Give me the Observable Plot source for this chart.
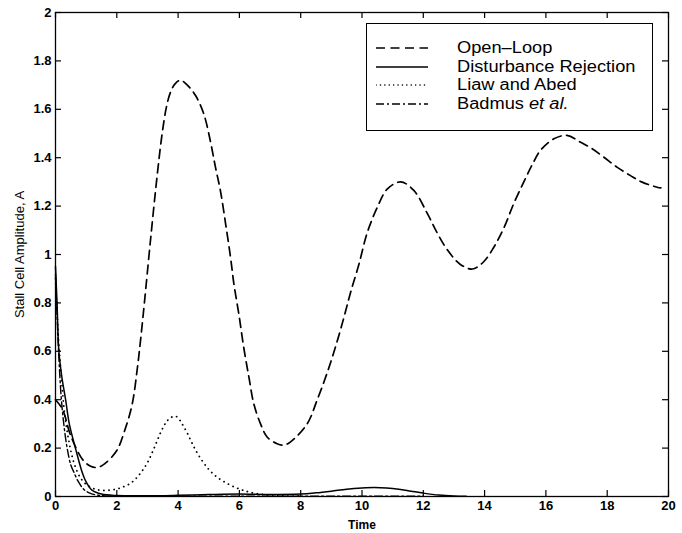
<!DOCTYPE html>
<html>
<head>
<meta charset="utf-8">
<script src="https://cdn.jsdelivr.net/npm/d3@7"></script>
<script src="https://cdn.jsdelivr.net/npm/@observablehq/plot@0.6"></script>
<style>
  body { margin: 0; background: white; }
  #wrap { position: relative; width: 682px; height: 533px; font-family: "Liberation Sans", Arial, sans-serif; }
  #legend { position: absolute; left: 366px; top: 23px; width: 285px; height: 106px; border: 1.5px solid black; background: white; }
  .row { position: absolute; left: 0; height: 18px; display: flex; align-items: center; white-space: nowrap; }
  .row svg { margin-left: 9px; }
  .row span { margin-left: 29px; font-size: 16px; color: black; display: inline-block; transform: scaleX(1.14); transform-origin: left center; }
</style>
</head>
<body>
<div id="wrap"></div>
<script>
// ---- data ----
const xTicks = [0, 2, 4, 6, 8, 10, 12, 14, 16, 18, 20];
const yTicks = [0, 0.2, 0.4, 0.6, 0.8, 1, 1.2, 1.4, 1.6, 1.8, 2];

const openT = [0, 0.23, 0.5, 0.9, 1.15, 1.36, 1.6, 2.0, 2.25, 2.5, 2.67, 2.77, 2.9, 3.1, 3.32, 3.48, 3.62, 3.75, 3.9, 4.08, 4.3, 4.57, 4.84, 5.06, 5.22, 5.38, 5.55, 5.71, 5.82, 5.98, 6.14, 6.31, 6.47, 6.69, 6.91, 7.23, 7.45, 7.67, 8.21, 8.54, 8.86, 9.14, 9.41, 9.62, 9.9, 10.17, 10.5, 10.82, 11.26, 11.69, 12.13, 12.45, 12.78, 13.2, 13.6, 13.97, 14.3, 14.63, 14.95, 15.28, 15.55, 15.82, 16.26, 16.69, 17.13, 17.51, 17.89, 18.33, 18.76, 19.14, 19.63, 19.75];
const openA = [0.4, 0.36, 0.25, 0.15, 0.125, 0.12, 0.135, 0.19, 0.27, 0.38, 0.53, 0.64, 0.80, 1.06, 1.33, 1.50, 1.61, 1.67, 1.705, 1.72, 1.70, 1.657, 1.58, 1.464, 1.36, 1.264, 1.127, 0.989, 0.879, 0.755, 0.617, 0.493, 0.383, 0.30, 0.245, 0.218, 0.212, 0.226, 0.30, 0.40, 0.51, 0.62, 0.74, 0.84, 0.96, 1.09, 1.195, 1.27, 1.30, 1.265, 1.17, 1.09, 1.02, 0.96, 0.94, 0.97, 1.03, 1.11, 1.21, 1.30, 1.37, 1.43, 1.478, 1.492, 1.464, 1.437, 1.402, 1.36, 1.326, 1.299, 1.278, 1.275];

const distT = [0, 0.05, 0.11, 0.2, 0.33, 0.45, 0.65, 0.87, 1.0, 1.2, 1.5, 2, 3, 4, 5, 6, 7, 8, 8.5, 9, 9.5, 10, 10.4, 10.8, 11.2, 11.6, 12, 12.5, 13, 13.4];
const distA = [0.95, 0.8, 0.6, 0.5, 0.4, 0.3, 0.2, 0.1, 0.06, 0.025, 0.01, 0.004, 0.003, 0.005, 0.008, 0.01, 0.008, 0.01, 0.015, 0.022, 0.03, 0.035, 0.037, 0.035, 0.03, 0.022, 0.014, 0.006, 0.002, 0.001];

const liawT = [0, 0.1, 0.2, 0.3, 0.45, 0.6, 0.8, 1.0, 1.3, 1.63, 1.96, 2.17, 2.39, 2.55, 2.7, 2.85, 3.0, 3.15, 3.3, 3.45, 3.6, 3.75, 3.91, 4.0, 4.13, 4.3, 4.45, 4.6, 4.8, 5.0, 5.22, 5.49, 5.82, 6.14, 6.47, 7, 8];
const liawA = [0.9, 0.65, 0.48, 0.34, 0.22, 0.14, 0.08, 0.05, 0.03, 0.025, 0.03, 0.038, 0.05, 0.065, 0.085, 0.11, 0.14, 0.18, 0.225, 0.27, 0.305, 0.325, 0.332, 0.325, 0.30, 0.262, 0.222, 0.185, 0.145, 0.112, 0.085, 0.062, 0.04, 0.025, 0.014, 0.005, 0.002];

const badT = [0, 0.05, 0.1, 0.18, 0.27, 0.38, 0.5, 0.6, 0.75, 0.92, 1.1, 1.4, 2, 3, 4, 6, 8, 10, 12];
const badA = [0.92, 0.75, 0.6, 0.42, 0.3, 0.2, 0.13, 0.1, 0.06, 0.03, 0.015, 0.005, 0.002, 0.001, 0.001, 0.001, 0.001, 0.001, 0.001];

const seriesNames = ["Open\u2013Loop", "Disturbance Rejection", "Liaw and Abed", "Badmus"];

// ---- chart ----
const W = 682, H = 533, mL = 55, mR = 14, mT = 12, mB = 37;
const fw = W - mL - mR, fh = H - mT - mB;
const toRows = (t, a) => t.map((d, i) => ({t: d, a: a[i]}));

const chart = Plot.plot({
  width: W, height: H,
  marginLeft: mL, marginRight: mR, marginTop: mT, marginBottom: mB,
  x: {domain: [0, 20]},
  y: {domain: [0, 2]},
  style: {fontFamily: "'Liberation Sans', Arial, sans-serif", fontSize: "13px", color: "black", background: "white"},
  marks: [
    Plot.line(toRows(openT, openA), {x: "t", y: "a", stroke: "black", strokeWidth: 1.7, strokeDasharray: "9,5.5", curve: "catmull-rom"}),
    Plot.line(toRows(liawT, liawA), {x: "t", y: "a", stroke: "black", strokeWidth: 1.8, strokeDasharray: "0.1,5", strokeLinecap: "round", curve: "catmull-rom"}),
    Plot.line(toRows(badT, badA), {x: "t", y: "a", stroke: "black", strokeWidth: 1.4, strokeDasharray: "8,3,2,3", curve: "catmull-rom"}),
    Plot.line(toRows(distT, distA), {x: "t", y: "a", stroke: "black", strokeWidth: 1.5, curve: "catmull-rom"}),
    Plot.frame({stroke: "black", strokeWidth: 1.3}),
    Plot.tickX(xTicks, {x: d => d, insetTop: fh - 6, stroke: "black", strokeWidth: 1.2}),
    Plot.tickX(xTicks, {x: d => d, insetBottom: fh - 6, stroke: "black", strokeWidth: 1.2}),
    Plot.tickY(yTicks, {y: d => d, insetRight: fw - 6, stroke: "black", strokeWidth: 1.2}),
    Plot.tickY(yTicks, {y: d => d, insetLeft: fw - 6, stroke: "black", strokeWidth: 1.2}),
    Plot.axisX(xTicks, {tickSize: 0, tickPadding: 4, label: null, fontWeight: "bold", fontSize: 13, fill: "black"}),
    Plot.axisY(yTicks, {tickSize: 0, tickPadding: 4, tickFormat: d3.format("~g"), label: null, fontWeight: "bold", fontSize: 13, fill: "black"}),
    Plot.text(["Time"], {frameAnchor: "bottom", dy: 32, fontSize: 12, fontWeight: "bold", fill: "black"}),
    Plot.text(["Stall Cell Amplitude, A"], {frameAnchor: "left", dx: -36, rotate: -90, textAnchor: "middle", fontSize: 13, fill: "black"})
  ]
});

const wrap = document.getElementById("wrap");
wrap.appendChild(chart);

// ---- legend ----
const legend = document.createElement("div");
legend.id = "legend";
const styles = [
  {dash: "9,5.5", w: 1.6, cap: "butt"},
  {dash: null, w: 1.5, cap: "butt"},
  {dash: "0.1,4.3", w: 1.5, cap: "round"},
  {dash: "8,3,2,3", w: 1.3, cap: "butt"}
];
const rowTops = [15, 34, 52, 71];
seriesNames.forEach((name, i) => {
  const row = document.createElement("div");
  row.className = "row";
  row.style.top = rowTops[i] + "px";
  const s = styles[i];
  row.innerHTML = `<svg width="52" height="10"><line x1="0" y1="5" x2="52" y2="5" stroke="black" stroke-width="${s.w}" stroke-linecap="${s.cap}" ${s.dash ? `stroke-dasharray="${s.dash}"` : ""}/></svg>` +
    `<span>${i === 3 ? name + " <i>et al.</i>" : name}</span>`;
  legend.appendChild(row);
});
wrap.appendChild(legend);
</script>
</body>
</html>
